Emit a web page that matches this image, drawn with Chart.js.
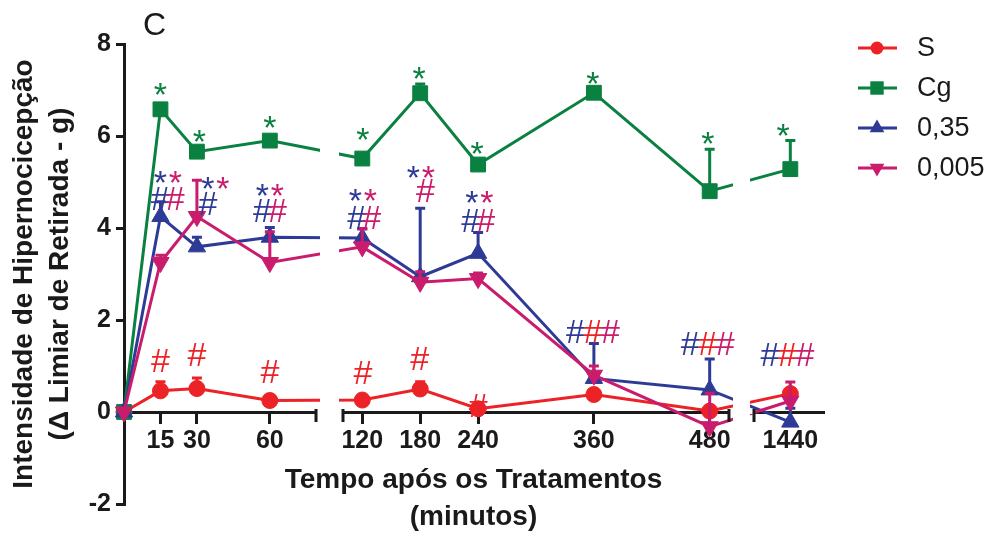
<!DOCTYPE html>
<html>
<head>
<meta charset="utf-8">
<script src="https://cdn.jsdelivr.net/npm/chart.js@4.4.1/dist/chart.umd.min.js"></script>
<style>
  html, body { margin: 0; padding: 0; background: #fff; }
  #wrap { width: 997px; height: 537px; }
</style>
</head>
<body>
<div id="wrap"><canvas id="grafico" width="997" height="537"></canvas></div>
<script>
// tempos de medida (minutos)
const tempos = [0, 15, 30, 60, 120, 180, 240, 360, 480, 1440];
const xTicks = [15, 30, 60, 120, 180, 240, 360, 480, 1440];
const yTicks = [-2, 0, 2, 4, 6, 8];

const grupos = ['S', 'Cg', '0,35', '0,005'];

// média e erro (EPM)
const mediaS = [0, 0.46, 0.51, 0.25, 0.26, 0.50, 0.07, 0.38, 0.02, 0.40];
const erroS = [0, 0.20, 0.23, 0.06, 0.06, 0.16, 0.13, 0.06, 0.05, 0.10];
const mediaCg = [0, 6.58, 5.66, 5.90, 5.51, 6.93, 5.38, 6.94, 4.80, 5.28];
const erroCg = [0, 0.10, 0.10, 0.10, 0.10, 0.20, 0.10, 0.10, 0.91, 0.62];
const media035 = [0, 4.25, 3.59, 3.80, 3.78, 2.94, 3.45, 0.73, 0.48, -0.22];
const erro035 = [0, 0.32, 0.21, 0.21, 0.20, 1.49, 0.45, 0.76, 0.67, 0.30];
const media0005 = [0, 3.25, 4.25, 3.25, 3.59, 2.82, 2.90, 0.80, -0.32, 0.24];
const erro0005 = [0, 0.16, 0.79, 0.67, 0.40, 0.23, 0.12, 0.20, 0.73, 0.41];

// marcas de significância: [tempo, valor, símbolo, grupos]
const marcas = [
  [15, 7.03, '*', ['Cg']], [31, 6.01, '*', ['Cg']], [60, 6.30, '*', ['Cg']],
  [120.7, 6.04, '*', ['Cg']], [179, 7.36, '*', ['Cg']], [239, 5.75, '*', ['Cg']],
  [359, 7.27, '*', ['Cg']], [478, 5.95, '*', ['Cg']], [1430, 6.12, '*', ['Cg']],
  [18, 5.10, '*', ['0,35', '0,005']], [37.6, 4.97, '*', ['0,35', '0,005']],
  [60, 4.82, '*', ['0,35', '0,005']], [120.7, 4.71, '*', ['0,35', '0,005']],
  [180.8, 5.21, '*', ['0,35', '0,005']], [241.3, 4.67, '*', ['0,35', '0,005']],
  [18, 4.65, '#', ['0,35', '0,005']], [34.5, 4.54, '#', ['0,35']],
  [60, 4.39, '#', ['0,35', '0,005']], [122, 4.23, '#', ['0,35', '0,005']],
  [185.5, 4.82, '#', ['0,005']], [240, 4.17, '#', ['0,35', '0,005']],
  [15, 1.13, '#', ['S']], [30, 1.26, '#', ['S']], [60, 0.87, '#', ['S']],
  [120.7, 0.85, '#', ['S']], [179.5, 1.17, '#', ['S']], [240, 0.15, '#', ['S']],
  [359, 1.74, '#', ['0,35', 'S', '0,005']], [478, 1.50, '#', ['0,35', 'S', '0,005']],
  [1436, 1.24, '#', ['0,35', 'S', '0,005']]
];

const cores = { 'S': '#ec2227', 'Cg': '#0a8140', '0,35': '#2e3b96', '0,005': '#ca1c6c' };
const FONTE = '"Liberation Sans", Arial, Helvetica, sans-serif';

// eixo X quebrado: trechos de valores -> fração da largura
const SEGMENTOS = [
  { min: 0, max: 79, de: 0, ate: 0.2747 },
  { min: 100, max: 500, de: 0.3133, ate: 0.8655 },
  { min: 1390, max: 1485, de: 0.9013, ate: 1 }
];

class EixoQuebrado extends Chart.LinearScale {
  getPixelForValue(value) {
    let s = SEGMENTOS[SEGMENTOS.length - 1];
    for (const seg of SEGMENTOS) { if (value <= seg.max) { s = seg; break; } }
    const f = s.de + (value - s.min) / (s.max - s.min) * (s.ate - s.de);
    return this.getPixelForDecimal(f);
  }
  getValueForPixel(pixel) {
    const d = this.getDecimalForPixel(pixel);
    let s = SEGMENTOS[SEGMENTOS.length - 1];
    for (const seg of SEGMENTOS) { if (d <= seg.ate) { s = seg; break; } }
    return s.min + (d - s.de) / (s.ate - s.de) * (s.max - s.min);
  }
}
EixoQuebrado.id = 'quebrado';
EixoQuebrado.defaults = Chart.LinearScale.defaults;
Chart.register(EixoQuebrado);

function serie(nome, media, erro, estilo, raio, rot) {
  return {
    label: nome,
    data: tempos.map((t, i) => ({ x: t, y: media[i] })),
    erro: erro,
    borderColor: cores[nome],
    backgroundColor: cores[nome],
    borderWidth: 3,
    pointStyle: estilo,
    pointRadius: raio,
    pointRotation: rot,
    pointBorderWidth: 1,
    pointBackgroundColor: cores[nome],
    pointBorderColor: cores[nome],
    tension: 0,
    clip: false
  };
}

// barras de erro (só para cima)
const barrasErro = {
  id: 'barrasErro',
  afterDatasetDraw(chart, args) {
    const ds = chart.data.datasets[args.index];
    const ctx = chart.ctx, y = chart.scales.y;
    ctx.save();
    ctx.strokeStyle = ds.borderColor;
    ctx.lineWidth = 3;
    args.meta.data.forEach((pt, i) => {
      const e = ds.erro[i];
      if (!e) return;
      const topo = y.getPixelForValue(ds.data[i].y + e);
      ctx.beginPath();
      ctx.moveTo(pt.x, pt.y);
      ctx.lineTo(pt.x, topo);
      ctx.moveTo(pt.x - 5, topo);
      ctx.lineTo(pt.x + 5, topo);
      ctx.stroke();
    });
    ctx.restore();
  }
};

// quebras do eixo e marcas * / #
const quebrasEMarcas = {
  id: 'quebrasEMarcas',
  afterDatasetsDraw(chart) {
    const ctx = chart.ctx, x = chart.scales.x, y = chart.scales.y;
    const area = chart.chartArea;
    const y0 = y.getPixelForValue(0);
    ctx.save();
    for (let i = 0; i < SEGMENTOS.length - 1; i++) {
      const a = x.getPixelForDecimal(SEGMENTOS[i].ate);
      const b = x.getPixelForDecimal(SEGMENTOS[i + 1].de);
      ctx.fillStyle = '#fff';
      ctx.fillRect(a + 4, area.top - 20, b - a - 8, y0 + 22 - area.top + 20);
      ctx.fillRect(a, y0 - 2, b - a, 4);
      ctx.strokeStyle = '#1a1a1a';
      ctx.lineWidth = 3;
      ctx.beginPath();
      ctx.moveTo(a, y0 - 3); ctx.lineTo(a, y0 + 10);
      ctx.moveTo(b, y0 - 3); ctx.lineTo(b, y0 + 10);
      ctx.stroke();
    }
    ctx.font = '34px ' + FONTE;
    ctx.textAlign = 'center';
    ctx.textBaseline = 'alphabetic';
    marcas.forEach(([t, v, sim, gs]) => {
      const cx = x.getPixelForValue(t), cy = y.getPixelForValue(v);
      const m = ctx.measureText(sim);
      const passo = gs.length > 2 ? 17.5 : 15;
      const by = cy + (m.actualBoundingBoxAscent - m.actualBoundingBoxDescent) / 2;
      gs.forEach((g, k) => {
        ctx.fillStyle = cores[g];
        ctx.fillText(sim, cx + (k - (gs.length - 1) / 2) * passo, by);
      });
    });
    ctx.restore();
  },
  afterDraw(chart) {
    const ctx = chart.ctx;
    const ds = chart.data.datasets;
    ctx.save();
    // letra do painel
    ctx.fillStyle = '#1a1a1a';
    ctx.font = '32px ' + FONTE;
    ctx.textBaseline = 'alphabetic';
    ctx.fillText('C', 143, 35);
    // legenda
    const raios = { circle: 6.5, rect: 9.5, triangle: 8.5 };
    ds.forEach((d, i) => {
      const yy = 48 + i * 40;
      ctx.strokeStyle = d.borderColor;
      ctx.fillStyle = d.borderColor;
      ctx.lineWidth = 3;
      ctx.beginPath();
      ctx.moveTo(858, yy); ctx.lineTo(897, yy);
      ctx.stroke();
      Chart.helpers.drawPoint(ctx, {
        pointStyle: d.pointStyle, radius: raios[d.pointStyle],
        rotation: d.pointRotation, borderWidth: 0
      }, 877, yy);
      ctx.fillStyle = '#1a1a1a';
      ctx.font = '27px ' + FONTE;
      ctx.textBaseline = 'middle';
      ctx.fillText(d.label, 917, yy + 1);
    });
    ctx.restore();
  }
};

new Chart(document.getElementById('grafico'), {
  type: 'line',
  data: {
    datasets: [
      serie('S', mediaS, erroS, 'circle', 8, 0),
      serie('Cg', mediaCg, erroCg, 'rect', 10.5, 0),
      serie('0,35', media035, erro035, 'triangle', 10, 0),
      serie('0,005', media0005, erro0005, 'triangle', 10, 180)
    ].map((d, i) => Object.assign(d, { order: 4 - i }))
  },
  options: {
    responsive: false,
    animation: false,
    layout: { padding: { left: 0, top: 44, right: 174, bottom: 33 } },
    plugins: { legend: { display: false }, tooltip: { enabled: false } },
    scales: {
      x: {
        type: 'quebrado',
        position: { y: 0 },
        min: 0,
        max: 1485,
        afterBuildTicks: (s) => { s.ticks = xTicks.map(v => ({ value: v })); },
        afterFit: (s) => { s.height = 127; },
        grid: { drawOnChartArea: false, drawTicks: true, tickLength: 10, lineWidth: 3, color: '#1a1a1a' },
        border: { display: true, width: 3, color: '#1a1a1a' },
        ticks: {
          autoSkip: false, maxRotation: 0, padding: 4, color: '#1a1a1a',
          font: { family: FONTE, size: 25, weight: 'bold' },
          callback: (v) => String(v)
        },
        title: {
          display: true,
          text: ['Tempo após os Tratamentos', '(minutos)'],
          color: '#1a1a1a',
          font: { family: FONTE, size: 28, weight: 'bold', lineHeight: 1.3 },
          padding: { top: 4, bottom: 4 }
        }
      },
      y: {
        position: 'left',
        min: -2,
        max: 8,
        afterBuildTicks: (s) => { s.ticks = yTicks.map(v => ({ value: v })); },
        afterFit: (s) => { s.width = 124; },
        grid: { drawOnChartArea: false, drawTicks: true, tickLength: 8, lineWidth: 3, color: '#1a1a1a' },
        border: { display: true, width: 3, color: '#1a1a1a' },
        ticks: {
          padding: 5, color: '#1a1a1a',
          font: { family: FONTE, size: 25, weight: 'bold' }
        },
        title: {
          display: true,
          text: ['Intensidade de Hipernocicepção', '(Δ Limiar de Retirada - g)'],
          color: '#1a1a1a',
          font: { family: FONTE, size: 28, weight: 'bold', lineHeight: 1.3 },
          padding: { top: 6, bottom: 0 }
        }
      }
    }
  },
  plugins: [barrasErro, quebrasEMarcas]
});
</script>
</body>
</html>
